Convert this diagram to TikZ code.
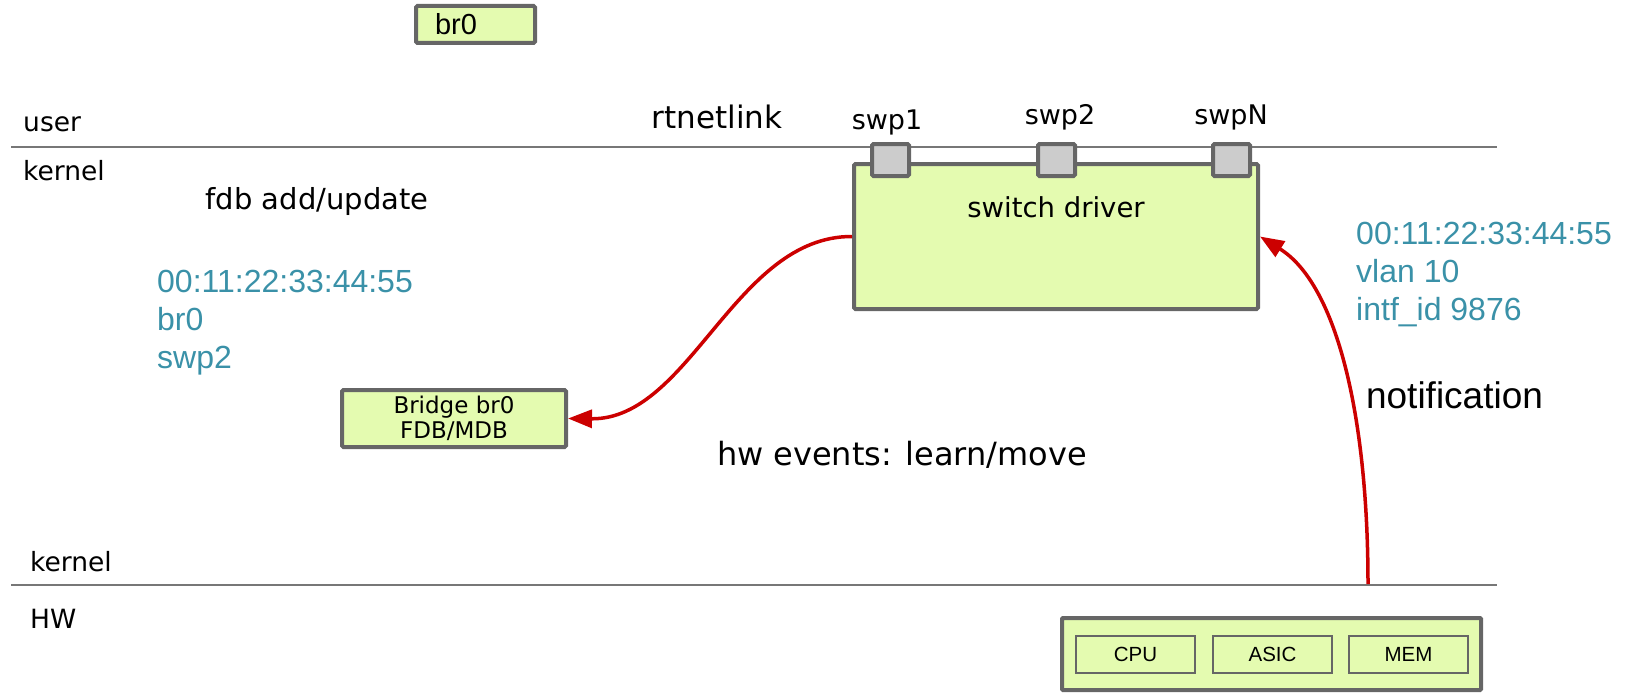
\documentclass[tikz,border=0pt]{standalone}
\usepackage{fontspec}
\setmainfont{DejaVu Sans}
\newfontfamily\arialfont{Liberation Sans}
\usepackage{tikz}
\usetikzlibrary{arrows.meta,positioning}
\definecolor{boxgreen}{RGB}{228,251,176}
\definecolor{boxgray}{RGB}{102,102,102}
\definecolor{portgray}{RGB}{204,204,204}
\definecolor{linegray}{RGB}{119,119,119}
\definecolor{evred}{RGB}{204,0,0}
\definecolor{fdbblue}{RGB}{58,145,168}
\tikzset
{
    box/.style      = {draw=boxgray, line width=4pt, fill=boxgreen, rounded corners=1.5pt, inner sep=0pt},
    port/.style     = {draw=boxgray, line width=4pt, fill=portgray, rounded corners=1.5pt, minimum width=37pt, minimum height=32pt},
    chip/.style     = {draw=boxgray, line width=1.8pt, minimum width=119pt, minimum height=37pt, font=\arialfont\fontsize{20.5}{24}\selectfont},
    layer/.style    = {draw=linegray, line width=2.5pt},
    lbl/.style      = {inner sep=0pt, font=\fontsize{26.5}{31}\selectfont},
    info/.style     = {inner sep=0pt, align=left, text=fdbblue, font=\arialfont\fontsize{32}{38}\selectfont},
    event/.style    = {draw=evred, line width=3.5pt, -{Triangle[length=24pt,width=18pt]}}
}

\begin{document}
\begin{tikzpicture}[x=1pt,y=-1pt]
\useasboundingbox (0,0) rectangle (1631,693);
% layer lines
\draw [layer] (11,147) -- (1497,147);
\draw [layer] (11,585) -- (1497,585);
\node [lbl, anchor=west] at (23,124) (user) {user};
\node [lbl, anchor=west] at (23,171) (kern1) {kernel};
\node [lbl, anchor=west] at (30,562) (kern2) {kernel};
\node [lbl, anchor=west] at (30,619) (hw) {HW};
% boxes
\node [box, minimum height=37pt, text width=81pt, inner xsep=19pt, align=left, font=\arialfont\fontsize{29}{34}\selectfont] at (475.5,24.5) (br) {br0};
\node [box, minimum width=404pt, minimum height=145pt] at (1056,236.5) (driver) {};
\node [font=\fontsize{27.5}{32}\selectfont] at (1056,207) (drvtxt) {switch driver};
\node [port] at (890.5,160) (p1) {};
\node [port] at (1056.5,160) (p2) {};
\node [port] at (1231.5,160) (pn) {};
\node [lbl, font=\fontsize{27}{32}\selectfont] at (887,122) (p1txt) {swp1};
\node [lbl, font=\fontsize{27}{32}\selectfont] at (1060,117) (p2txt) {swp2};
\node [lbl, font=\fontsize{27}{32}\selectfont] at (1231,117) (pntxt) {swpN};
\node [box, minimum width=224pt, minimum height=57pt, align=center, font=\fontsize{23}{25.5}\selectfont] at (454,418.5) (bridge) {Bridge br0\\FDB/MDB};
\node [box, rounded corners=1pt, minimum width=419pt, minimum height=72pt] at (1271.5,654) (asicbox) {};
\node [chip] at (1135.5,654.5) (cpu) {CPU};
\node [chip] at (1272.5,654.5) (asic) {ASIC};
\node [chip] at (1408.5,654.5) (mem) {MEM};
% texts
\node [inner sep=0pt, font=\fontsize{31}{36}\selectfont] at (717,117) (rtnl) {rtnetlink};
\node [inner sep=0pt, font=\fontsize{29}{34}\selectfont] at (317,201) (fdbadd) {fdb add/update};
\node [info, anchor=west] at (157,323) (fdbl) {00:11:22:33:44:55\\br0\\swp2};
\node [info, anchor=west] at (1356,275) (fdbr) {00:11:22:33:44:55\\vlan 10\\intf\_id 9876};
\node [inner sep=0pt, font=\arialfont\fontsize{37}{43}\selectfont] at (1454.5,395) (notif) {notification};
\node [inner sep=0pt, font=\fontsize{32}{37}\selectfont] at (902,455) (hwev) {hw events: learn/move};
% arrows
\coordinate (hwtop) at (1368,584);
\draw [event] (driver.west) .. controls (735,236) and (690,420) .. (bridge.east);
\draw [event] (hwtop) .. controls (1368,420) and (1338,285) .. (driver.east);
\end{tikzpicture}
\end{document}
